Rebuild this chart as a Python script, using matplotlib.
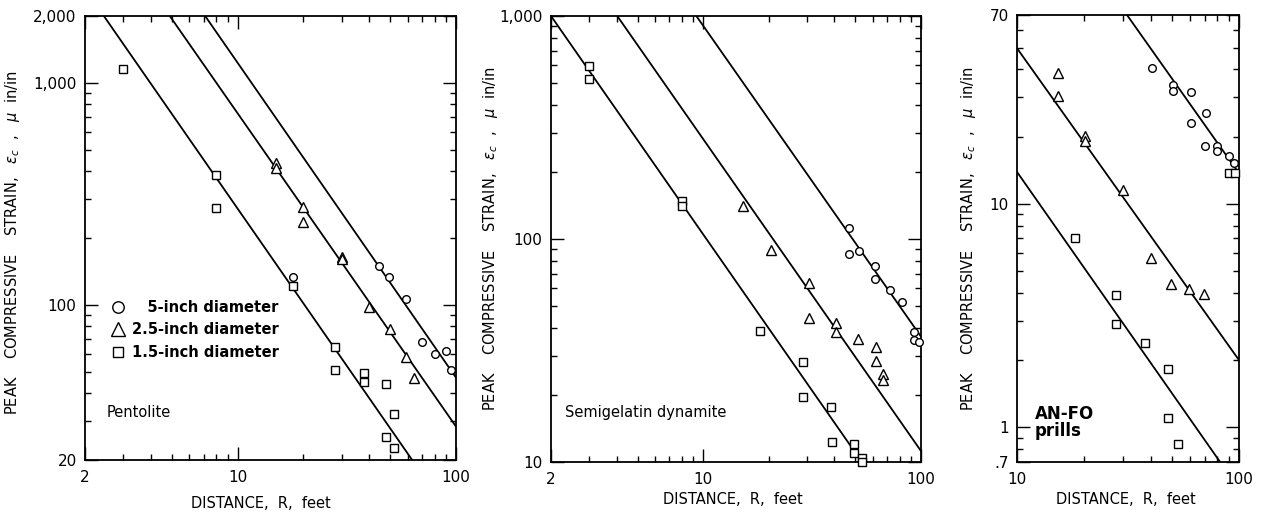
import matplotlib
matplotlib.use('Agg')
import matplotlib.pyplot as plt
from matplotlib.ticker import FixedLocator, FixedFormatter, LogLocator, NullFormatter

plt.rcParams['font.family'] = ['DejaVu Sans']
plt.rcParams['mathtext.fontset'] = 'dejavusans'

# ---- Pentolite ----
pent_r_5in = [44.5, 49.4, 59.3, 69.7, 80, 90, 94.4, 18]
pent_e_5in = [150, 134, 106, 68, 60, 62, 51, 134]
pent_r_25in = [15, 15, 20, 20, 30, 30, 40, 50, 59, 64]
pent_e_25in = [436, 415, 277, 237, 165, 161, 97.5, 78, 58, 46.7]
pent_r_15in = [3, 8, 8, 18, 28, 28, 38, 38, 48, 52, 48, 52]
pent_e_15in = [1160, 385, 272, 122, 64.4, 50.8, 49.4, 44.8, 44, 32.1, 25.5, 22.7]
# fitted lines, end points (R, strain)
pent_fit_5in = ([7.1, 100], [2000, 47])
pent_fit_25in = ([4.89, 100], [2000, 28.3])
pent_fit_15in = ([2.44, 63], [2000, 20])

# ---- Semigelatin dynamite ----
semi_r_5in = [46.7, 46.7, 51.9, 61.2, 61.2, 71.8, 82, 92.9, 92.9, 98]
semi_e_5in = [112, 85.7, 88.7, 75.5, 66.2, 59, 52.4, 38.2, 35.2, 34.7]
semi_r_25in = [15.2, 20.4, 30.5, 30.5, 40.5, 40.5, 51.4, 61.9, 61.9, 66.8, 66.8]
semi_e_25in = [141, 89.4, 63.7, 44.1, 41.9, 38.2, 35.5, 32.9, 28.5, 24.8, 23.3]
semi_r_15in = [3, 3, 8, 8, 18.2, 28.6, 28.6, 38.8, 39, 49, 49, 53.5, 53.5]
semi_e_15in = [597, 522, 148, 140, 38.6, 28, 19.5, 17.6, 12.3, 12.0, 11.0, 10.4, 10.0]
semi_fit_5in = ([9.3, 100], [1000, 36.5])
semi_fit_25in = ([4.03, 100], [1000, 11.2])
semi_fit_15in = ([2, 53.5], [1000, 10])

# ---- AN-FO prills ----
anfo_r_5in = [40.4, 50.6, 50.6, 60.9, 71, 60.9, 70.3, 80, 79.3, 90.2, 95.1]
anfo_e_5in = [40.4, 34.1, 32, 31.7, 25.5, 23.1, 18.2, 18.2, 17.2, 16.4, 15.2]
anfo_r_25in = [15.3, 15.3, 20.3, 20.3, 30, 40.2, 49.4, 59.6, 69.8]
anfo_e_25in = [38.6, 30.5, 20.1, 19.2, 11.5, 5.73, 4.37, 4.15, 3.97]
anfo_r_15in = [18.3, 28, 28, 37.8, 48.1, 48.1, 53, 90, 95.6]
anfo_e_15in = [7.07, 3.90, 2.89, 2.39, 1.83, 1.10, 0.84, 13.7, 13.7]
anfo_fit_5in = ([31.3, 100], [70, 13.7])
anfo_fit_25in = ([10, 100], [49.7, 2.0])
anfo_fit_15in = ([10, 82.2], [13.9, 0.7])

legend_labels = ['   5-inch diameter', '2.5-inch diameter', '1.5-inch diameter']

YLABEL = r'PEAK    COMPRESSIVE    STRAIN,   $\epsilon_c$  ,   $\mu$  in/in'
XLABEL = 'DISTANCE,  R,  feet'


def draw_panel(ax, series, fits, xlim, ylim, xticks, xticklabels, yticks, yticklabels):
    markers = ['o', '^', 's']
    sizes = [5.5, 6.5, 5.2]
    handles = []
    for (r, e), m, s in zip(series, markers, sizes):
        h, = ax.plot(r, e, linestyle='none', marker=m, markersize=s, markerfacecolor='white',
                     markeredgecolor='black', markeredgewidth=1.0, clip_on=False, zorder=3)
        handles.append(h)
    for fr, fe in fits:
        ax.plot(fr, fe, color='black', linewidth=1.3, solid_capstyle='butt', zorder=2)
    ax.set_xscale('log')
    ax.set_yscale('log')
    ax.set_xlim(xlim)
    ax.set_ylim(ylim)
    ax.xaxis.set_major_locator(FixedLocator(xticks))
    ax.xaxis.set_major_formatter(FixedFormatter(xticklabels))
    ax.yaxis.set_major_locator(FixedLocator(yticks))
    ax.yaxis.set_major_formatter(FixedFormatter(yticklabels))
    ax.xaxis.set_minor_locator(LogLocator(base=10, subs=range(2, 10), numticks=20))
    ax.yaxis.set_minor_locator(LogLocator(base=10, subs=range(2, 10), numticks=20))
    ax.xaxis.set_minor_formatter(NullFormatter())
    ax.yaxis.set_minor_formatter(NullFormatter())
    ax.tick_params(which='both', direction='in', top=True, right=True, width=1.0,
                   labelsize=11, colors='black')
    ax.tick_params(which='major', length=9.5)
    ax.tick_params(which='minor', length=4.5)
    ax.tick_params(axis='x', which='major', pad=7)
    ax.tick_params(axis='y', which='major', pad=6)
    for sp in ax.spines.values():
        sp.set_linewidth(1.3)
    ax.set_xlabel(XLABEL, fontsize=10.5)
    ax.set_ylabel(YLABEL, fontsize=10.5, va='center')
    return handles


fig = plt.figure(figsize=(12.62, 5.18), dpi=100)
W, H = 1262.0, 518.0

ax1 = fig.add_axes([85 / W, (H - 460) / H, 371 / W, 444 / H])
ax2 = fig.add_axes([551 / W, (H - 462) / H, 370 / W, 446 / H])
ax3 = fig.add_axes([1017 / W, (H - 462) / H, 222 / W, 447 / H])

h1 = draw_panel(ax1,
                [(pent_r_5in, pent_e_5in), (pent_r_25in, pent_e_25in), (pent_r_15in, pent_e_15in)],
                [pent_fit_5in, pent_fit_25in, pent_fit_15in],
                (2, 100), (20, 2000), [2, 10, 100], ['2', '10', '100'],
                [20, 100, 1000, 2000], ['20', '100', '1,000', '2,000'])
draw_panel(ax2,
           [(semi_r_5in, semi_e_5in), (semi_r_25in, semi_e_25in), (semi_r_15in, semi_e_15in)],
           [semi_fit_5in, semi_fit_25in, semi_fit_15in],
           (2, 100), (10, 1000), [2, 10, 100], ['2', '10', '100'],
           [10, 100, 1000], ['10', '100', '1,000'])
draw_panel(ax3,
           [(anfo_r_5in, anfo_e_5in), (anfo_r_25in, anfo_e_25in), (anfo_r_15in, anfo_e_15in)],
           [anfo_fit_5in, anfo_fit_25in, anfo_fit_15in],
           (10, 100), (0.7, 70), [10, 100], ['10', '100'],
           [0.7, 1, 10, 70], ['.7', '1', '10', '70'])

# axis label placement
ax1.xaxis.set_label_coords((261 - 85) / 371, -(503 - 460) / 444)
ax2.xaxis.set_label_coords((733 - 551) / 370, -(500 - 462) / 446)
ax3.xaxis.set_label_coords((1126 - 1017) / 222, -(500 - 462) / 447)
for ax in (ax1, ax2, ax3):
    ax.xaxis.label.set_va('center')
ax1.yaxis.set_label_coords((12.5 - 85) / 371, 0.49)
ax2.yaxis.set_label_coords((490 - 551) / 370, 0.50)
ax3.yaxis.set_label_coords((968 - 1017) / 222, 0.50)

leg = ax1.legend(h1, legend_labels, loc='upper left', bbox_to_anchor=(0.069, 0.36),
                 frameon=False, markerscale=1.5, handlelength=1.0, handletextpad=0.5,
                 labelspacing=0.5, borderaxespad=0, borderpad=0,
                 prop={'weight': 'bold', 'size': 10.5})

ax1.text(0.059, 0.106, 'Pentolite', transform=ax1.transAxes, ha='left', va='center', fontsize=10.5)
ax2.text(0.038, 0.110, 'Semigelatin dynamite', transform=ax2.transAxes, ha='left', va='center',
         fontsize=10.5)
ax3.text(0.081, 0.128, 'AN-FO\nprills', transform=ax3.transAxes, ha='left', va='top',
         fontsize=12, fontweight='bold', linespacing=0.95)

fig.savefig('out.png', dpi=100)
